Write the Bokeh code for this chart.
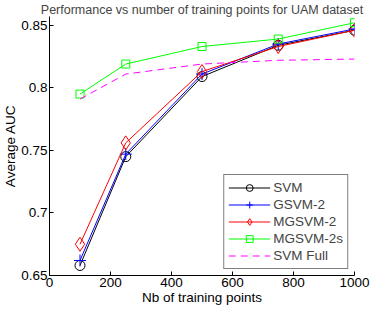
from bokeh.plotting import figure
from bokeh.models import Range1d, FixedTicker, Legend
from bokeh.embed import file_html
from bokeh.resources import INLINE

n_points = [100, 250, 500, 750, 1000]
svm = [0.658, 0.745, 0.809, 0.834, 0.846]
gsvm2 = [0.662, 0.747, 0.811, 0.835, 0.847]
mgsvm2 = [0.675, 0.756, 0.813, 0.833, 0.846]
mgsvm2s = [0.795, 0.819, 0.833, 0.839, 0.852]
svm_full = [0.791, 0.811, 0.819, 0.822, 0.823]

x_ticks = [0, 200, 400, 600, 800, 1000]
y_ticks = [0.65, 0.7, 0.75, 0.8, 0.85]
y_tick_labels = ["0.65", "0.7", "0.75", "0.8", "0.85"]

FONT = "Liberation Sans"
FS = "13.5px"

p = figure(width=374, height=307, output_backend="svg", toolbar_location=None,
           x_range=Range1d(0, 1000), y_range=Range1d(0.65, 0.857),
           min_border_left=44, min_border_right=20, min_border_top=12, min_border_bottom=28)

p.title.text = "Performance vs number of training points for UAM dataset"
p.title.text_font = FONT
p.title.text_font_size = "12.5px"
p.title.text_font_style = "normal"
p.title.align = "center"
p.title.standoff = 0
p.title.offset = 0

p.outline_line_color = None
p.xgrid.visible = False
p.ygrid.visible = False
p.background_fill_color = "white"
p.border_fill_color = "white"

for ax in (p.xaxis[0], p.yaxis[0]):
    ax.major_tick_in = 4
    ax.major_tick_out = 0
    ax.minor_tick_line_color = None
    ax.axis_line_color = "black"
    ax.major_tick_line_color = "black"
    ax.major_label_text_font = FONT
    ax.major_label_text_font_size = FS
    ax.major_label_text_color = "black"
    ax.axis_label_text_font = FONT
    ax.axis_label_text_font_size = FS
    ax.axis_label_text_font_style = "normal"
    ax.axis_label_text_color = "black"
    ax.major_label_standoff = 2
    ax.axis_label_standoff = 0

p.xaxis.ticker = FixedTicker(ticks=x_ticks)
p.yaxis.ticker = FixedTicker(ticks=y_ticks)
p.yaxis.major_label_overrides = dict(zip(y_ticks, y_tick_labels))
p.xaxis.axis_label = "Nb of training points"
p.yaxis.axis_label = "Average AUC"

items = []
series = [
    ("SVM", svm, "black", "circle", 10),
    ("GSVM-2", gsvm2, "blue", "cross", 12),
    ("MGSVM-2", mgsvm2, "red", "diamond", 14),
    ("MGSVM-2s", mgsvm2s, "#00ff00", "square", 8),
]
for label, ys, color, marker, size in series:
    r1 = p.line(n_points, ys, line_color=color, line_width=1)
    r2 = p.scatter(n_points, ys, marker=marker, size=size, line_color=color,
                   fill_color=None, line_width=1)
    items.append((label, [r1, r2]))

r = p.line(n_points, svm_full, line_color="#ff00ff", line_width=1, line_dash="7 5")
items.append(("SVM Full", [r]))

legend = Legend(items=items, location="bottom_right", margin=6,
                label_text_font=FONT, label_text_font_size=FS,
                glyph_width=42, glyph_height=17, label_height=17,
                spacing=0, padding=4, label_standoff=3,
                border_line_color="black", border_line_width=1,
                background_fill_color="white", background_fill_alpha=1.0)
p.add_layout(legend, "center")

open("out.html", "w").write(file_html(p, INLINE))
